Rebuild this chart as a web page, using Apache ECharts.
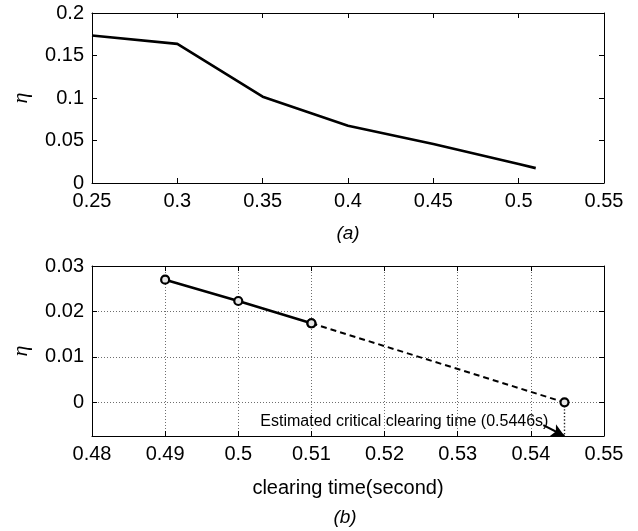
<!DOCTYPE html>
<html>
<head>
<meta charset="utf-8">
<script src="https://cdn.jsdelivr.net/npm/echarts@6.0.0/dist/echarts.min.js"></script>
<style>
  html, body { margin: 0; padding: 0; background: #fff; }
  #chart { width: 638px; height: 531px; }
</style>
</head>
<body>
<div id="chart"></div>
<script>
// (a) performance index eta against fault clearing time
const clearTimeA = [0.25, 0.30, 0.35, 0.40, 0.45, 0.49, 0.50, 0.51];
const etaA = [0.1735, 0.1637, 0.1015, 0.0673, 0.0458, 0.0270, 0.0223, 0.0175];

// (b) simulated samples and the linear extrapolation to eta = 0
const clearTimeB = [0.49, 0.50, 0.51];
const etaB = [0.0270, 0.0223, 0.0174];
const criticalTime = 0.5446;
const criticalEta = 0;

// axis ranges: [min, max, step]
const xRangeA = [0.25, 0.55, 0.05];
const yRangeA = [0, 0.2, 0.05];
const xRangeB = [0.48, 0.55, 0.01];
const yRangeB = [-0.0074, 0.03];

const etaName = 'η';
const xNameB = 'clearing time(second)';
const captionA = '(a)';
const captionB = '(b)';
const criticalText = 'Estimated critical clearing time (0.5446s)';

const font = "'Liberation Sans', Arial, Helvetica, sans-serif";
const serif = "'Liberation Serif', 'DejaVu Serif', serif";

function valueAxis(extra) {
  return Object.assign({
    type: 'value',
    axisLine: { show: true, onZero: false, lineStyle: { color: '#000', width: 1 } },
    axisTick: { show: true, inside: true, length: 5, lineStyle: { color: '#000', width: 1 } },
    axisLabel: { color: '#000', fontSize: 20, fontFamily: font, margin: 8 },
    splitLine: { show: false }
  }, extra);
}

const dotted = { show: true, lineStyle: { color: '#6e6e6e', width: 1, type: [1, 2] } };
const hideLabel = { show: false };
const etaNameStyle = { color: '#000', fontSize: 22, fontStyle: 'italic', fontFamily: serif };

const pairs = (xs, ys) => xs.map((x, i) => [x, ys[i]]);
const lastB = [clearTimeB[clearTimeB.length - 1], etaB[etaB.length - 1]];

const chart = echarts.init(document.getElementById('chart'), null, { renderer: 'canvas' });

chart.setOption({
  animation: false,
  backgroundColor: '#fff',
  grid: [
    { left: 92, right: 34, top: 13, height: 170 },
    { left: 92, right: 34, top: 266, height: 170 }
  ],
  xAxis: [
    valueAxis({ gridIndex: 0, min: xRangeA[0], max: xRangeA[1], interval: xRangeA[2] }),
    valueAxis({ gridIndex: 0, position: 'top', min: xRangeA[0], max: xRangeA[1], interval: xRangeA[2], axisLabel: hideLabel }),
    valueAxis({
      gridIndex: 1, min: xRangeB[0], max: xRangeB[1], interval: xRangeB[2],
      splitLine: dotted,
      name: xNameB, nameLocation: 'middle', nameGap: 42,
      nameTextStyle: { color: '#000', fontSize: 20, fontFamily: font }
    }),
    valueAxis({ gridIndex: 1, position: 'top', min: xRangeB[0], max: xRangeB[1], interval: xRangeB[2], axisLabel: hideLabel })
  ],
  yAxis: [
    valueAxis({
      gridIndex: 0, min: yRangeA[0], max: yRangeA[1], interval: yRangeA[2],
      name: etaName, nameLocation: 'middle', nameRotate: 90, nameGap: 60,
      nameTextStyle: etaNameStyle
    }),
    valueAxis({ gridIndex: 0, position: 'right', min: yRangeA[0], max: yRangeA[1], interval: yRangeA[2], axisLabel: hideLabel }),
    valueAxis({
      gridIndex: 1, min: yRangeB[0], max: yRangeB[1], splitNumber: 4,
      splitLine: dotted,
      axisLabel: { color: '#000', fontSize: 20, fontFamily: font, margin: 8, showMinLabel: false },
      name: etaName, nameLocation: 'middle', nameRotate: 90, nameGap: 60,
      nameTextStyle: etaNameStyle
    }),
    valueAxis({ gridIndex: 1, position: 'right', min: yRangeB[0], max: yRangeB[1], splitNumber: 4, axisLabel: hideLabel })
  ],
  series: [
    {
      type: 'line',
      xAxisIndex: 0, yAxisIndex: 0,
      data: pairs(clearTimeA, etaA),
      showSymbol: false, symbol: 'none',
      lineStyle: { color: '#000', width: 2.6 },
      z: 3
    },
    {
      // extrapolation to the critical clearing time
      type: 'line',
      xAxisIndex: 2, yAxisIndex: 2,
      data: [lastB, [criticalTime, criticalEta]],
      symbol: 'circle', symbolSize: 8,
      itemStyle: { color: '#e6e6e6', borderColor: '#000', borderWidth: 2.2 },
      lineStyle: { color: '#000', width: 2, type: [6, 4] },
      z: 3
    },
    {
      type: 'line',
      xAxisIndex: 2, yAxisIndex: 2,
      data: pairs(clearTimeB, etaB),
      symbol: 'circle', symbolSize: 8,
      itemStyle: { color: '#e6e6e6', borderColor: '#000', borderWidth: 2.2 },
      lineStyle: { color: '#000', width: 2.6 },
      z: 4
    },
    {
      // drop line from the zero crossing to the time axis, with the annotation arrow
      type: 'line',
      xAxisIndex: 2, yAxisIndex: 2,
      data: [[criticalTime, criticalEta], [criticalTime, yRangeB[0]]],
      symbol: 'none',
      clip: false,
      lineStyle: { color: '#222', width: 1.4, type: [1.4, 2] },
      z: 2,
      markLine: {
        silent: true,
        symbol: ['none', 'arrow'],
        symbolSize: [10, 13],
        lineStyle: { color: '#000', width: 2, type: 'solid' },
        label: { show: false },
        data: [[{ coord: [0.5417, -0.0050] }, { coord: [criticalTime, yRangeB[0]] }]]
      },
      markPoint: {
        silent: true,
        symbol: 'circle', symbolSize: 0,
        label: {
          show: true, position: 'left', distance: 0,
          formatter: criticalText,
          color: '#000', fontSize: 16, fontFamily: font
        },
        data: [{ coord: [0.5424, -0.00425] }]
      }
    }
  ],
  graphic: [
    {
      type: 'text', x: 348, y: 234,
      style: { text: captionA, fill: '#000', font: 'italic 19px ' + font, textAlign: 'center', textVerticalAlign: 'middle' }
    },
    {
      type: 'text', x: 345, y: 518,
      style: { text: captionB, fill: '#000', font: 'italic 19px ' + font, textAlign: 'center', textVerticalAlign: 'middle' }
    }
  ]
});
</script>
</body>
</html>
